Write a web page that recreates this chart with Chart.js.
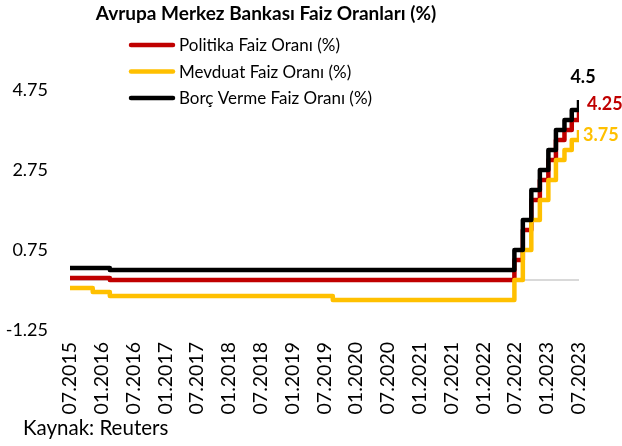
<!DOCTYPE html>
<html>
<head>
<meta charset="utf-8">
<script src="https://cdn.jsdelivr.net/npm/chart.js@4.4.0/dist/chart.umd.min.js"></script>
<style>
  html, body { margin: 0; padding: 0; background: #fff; }
  #wrap { width: 622px; height: 446px; position: relative; }
</style>
</head>
<body>
<div id="wrap"><canvas id="chart" width="622" height="446"></canvas></div>
<script>
// Dates on which the rates changed (first one is where the series starts)
const changeDates = ['2015-07-31', '2015-12-09', '2016-03-16', '2019-09-18', '2022-07-27', '2022-09-14',
  '2022-11-02', '2022-12-21', '2023-02-08', '2023-03-22', '2023-05-10', '2023-06-21', '2023-08-02'];
const policyRate = [0.05, 0.05, 0.00, 0.00, 0.50, 1.25, 2.00, 2.50, 3.00, 3.50, 3.75, 4.00, 4.25];
const depositRate = [-0.20, -0.30, -0.40, -0.50, 0.00, 0.75, 1.50, 2.00, 2.50, 3.00, 3.25, 3.50, 3.75];
const lendingRate = [0.30, 0.30, 0.25, 0.25, 0.75, 1.50, 2.25, 2.75, 3.25, 3.75, 4.00, 4.25, 4.50];

const seriesNames = ['Politika Faiz Oranı (%)', 'Mevduat Faiz Oranı (%)', 'Borç Verme Faiz Oranı (%)'];
const seriesColors = ['#C00000', '#FFC000', '#000000'];
const endLabels = ['4.25', '3.75', '4.5'];

const tickLabels = ['07.2015', '01.2016', '07.2016', '01.2017', '07.2017', '01.2018', '07.2018', '01.2019',
  '07.2019', '01.2020', '07.2020', '01.2021', '07.2021', '01.2022', '07.2022', '01.2023', '07.2023'];
const yTicks = [-1.25, 0.75, 2.75, 4.75];

const FONT = 'Lato, "Open Sans", sans-serif';

// months since Jan 2015, fractional by day
function toX(str) {
  const [y, m, d] = str.split('-').map(Number);
  const days = new Date(y, m, 0).getDate();
  return (y - 2015) * 12 + (m - 1) + (d - 1) / days;
}

// tick sits on the last day of the labelled month
function tickX(label) {
  const [m, y] = label.split('.').map(Number);
  const days = new Date(y, m, 0).getDate();
  return toX(`${y}-${String(m).padStart(2, '0')}-${days}`);
}

function points(values) {
  return changeDates.map((d, i) => ({ x: toX(d), y: values[i] }));
}

const decor = {
  id: 'decor',
  beforeDatasetsDraw(chart) {
    const { ctx, chartArea, scales } = chart;
    const y0 = scales.y.getPixelForValue(0);
    ctx.save();
    ctx.strokeStyle = '#D9D9D9';
    ctx.lineWidth = 2;
    ctx.beginPath();
    ctx.moveTo(chartArea.left, y0);
    ctx.lineTo(chartArea.right, y0);
    ctx.stroke();
    ctx.restore();
  },
  afterDraw(chart) {
    const { ctx } = chart;
    ctx.save();
    // title
    ctx.fillStyle = '#000';
    ctx.font = `bold 19px ${FONT}`;
    ctx.textAlign = 'center';
    ctx.textBaseline = 'middle';
    ctx.fillText('Avrupa Merkez Bankası Faiz Oranları (%)', 266, 14);

    // legend
    const rows = [45, 71.5, 98];
    ctx.font = `17px ${FONT}`;
    ctx.textAlign = 'left';
    seriesNames.forEach((name, i) => {
      ctx.strokeStyle = seriesColors[i];
      ctx.lineWidth = 4.5;
      ctx.lineCap = 'round';
      ctx.beginPath();
      ctx.moveTo(131, rows[i]);
      ctx.lineTo(173, rows[i]);
      ctx.stroke();
      ctx.fillStyle = '#000';
      ctx.fillText(name, 179, rows[i] + 1);
    });

    // end-of-line value labels
    ctx.font = `bold 18px ${FONT}`;
    const offsets = [[8, -6, 'left'], [4, 5, 'left'], [4, -23, 'center']];
    chart.data.datasets.forEach((ds, i) => {
      const meta = chart.getDatasetMeta(i);
      const last = meta.data[meta.data.length - 1];
      ctx.fillStyle = seriesColors[i];
      ctx.textAlign = offsets[i][2];
      ctx.fillText(endLabels[i], last.x + offsets[i][0], last.y + offsets[i][1]);
    });

    // source
    ctx.fillStyle = '#000';
    ctx.font = `20.5px ${FONT}`;
    ctx.textAlign = 'left';
    ctx.fillText('Kaynak: Reuters', 23, 428);
    ctx.restore();
  }
};

Chart.defaults.font.family = FONT;
Chart.defaults.color = '#000';

new Chart(document.getElementById('chart'), {
  type: 'line',
  data: {
    datasets: [
      { label: seriesNames[0], data: points(policyRate), borderColor: seriesColors[0], order: 2 },
      { label: seriesNames[1], data: points(depositRate), borderColor: seriesColors[1], order: 1 },
      { label: seriesNames[2], data: points(lendingRate), borderColor: seriesColors[2], order: 0 }
    ]
  },
  options: {
    responsive: false,
    animation: false,
    layout: { padding: { top: 90, right: 43, bottom: 0, left: 0 } },
    elements: {
      line: { borderWidth: 4.5, stepped: true, tension: 0, borderJoinStyle: 'round', fill: false },
      point: { radius: 0 }
    },
    plugins: {
      legend: { display: false },
      title: { display: false },
      tooltip: { enabled: false }
    },
    scales: {
      x: {
        type: 'linear',
        min: toX(changeDates[0]),
        max: toX(changeDates[changeDates.length - 1]),
        grid: { display: false, drawTicks: false },
        border: { display: false },
        afterBuildTicks: (scale) => {
          scale.ticks = tickLabels.map(l => ({ value: tickX(l) }));
        },
        afterFit: (scale) => { scale.height = 116; },
        ticks: {
          autoSkip: false,
          minRotation: 90,
          maxRotation: 90,
          padding: 12,
          font: { size: 19.5 },
          callback: (v, i) => tickLabels[i]
        }
      },
      y: {
        min: -1.25,
        max: 4.75,
        grid: { display: false, drawTicks: false },
        border: { display: false },
        afterBuildTicks: (scale) => {
          scale.ticks = yTicks.map(v => ({ value: v }));
        },
        afterFit: (scale) => { scale.width = 70; },
        ticks: {
          padding: 22,
          font: { size: 18 },
          callback: (v) => v.toFixed(2)
        }
      }
    }
  },
  plugins: [decor]
});
</script>
</body>
</html>
